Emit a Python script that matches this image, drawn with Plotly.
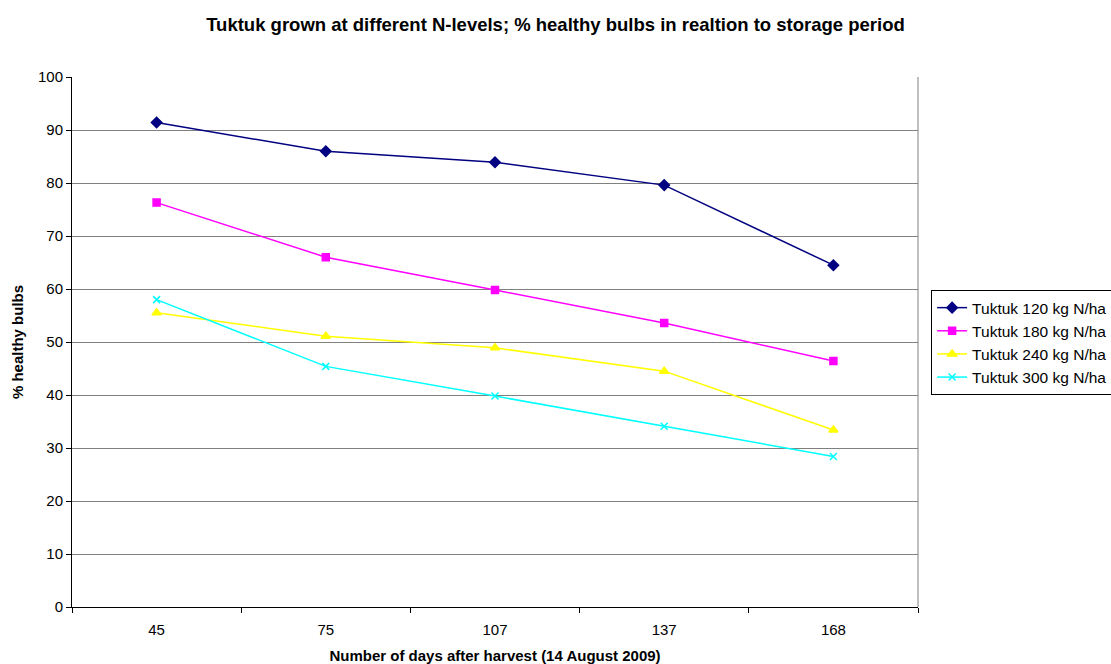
import plotly.graph_objects as go

days = ["45", "75", "107", "137", "168"]
n120 = [91.4, 86.0, 83.9, 79.6, 64.5]
n180 = [76.3, 66.0, 59.8, 53.6, 46.4]
n240 = [55.5, 51.1, 48.9, 44.5, 33.4]
n300 = [58.0, 45.4, 39.8, 34.1, 28.4]

series = [
    ("Tuktuk 120 kg N/ha", n120, "#000080", "diamond", 8),
    ("Tuktuk 180 kg N/ha", n180, "#FF00FF", "square", 7),
    ("Tuktuk 240 kg N/ha", n240, "#FFFF00", "triangle-up", 8),
    ("Tuktuk 300 kg N/ha", n300, "#00FFFF", "x-thin", 7),
]

fig = go.Figure()
for name, vals, color, sym, size in series:
    fig.add_trace(go.Scatter(
        x=days, y=vals, name=name, mode="lines+markers",
        line=dict(color=color, width=1.5),
        marker=dict(symbol=sym, size=size, color=color,
                    line=dict(color=color, width=1.5)),
    ))

fig.update_layout(
    width=1111, height=664,
    margin=dict(l=72, r=193, t=77, b=57, autoexpand=False),
    paper_bgcolor="white", plot_bgcolor="white",
    font=dict(family="Liberation Sans, Arial, sans-serif", size=15, color="black"),
    title=dict(
        text="<b>Tuktuk grown at different N-levels; % healthy bulbs in realtion to storage period</b>",
        x=0.5, xanchor="center", y=0.963, yanchor="middle",
        font=dict(size=18.5),
    ),
    legend=dict(
        x=1.0155, xanchor="left", y=0.598, yanchor="top",
        bordercolor="black", borderwidth=1, bgcolor="white",
        font=dict(size=15.5), tracegroupgap=0, itemwidth=30,
    ),
    xaxis=dict(
        type="category", range=[-0.5, 4.5], automargin=False,
        tickson="boundaries", ticks="outside", ticklen=5, tickcolor="black",
        showline=True, linecolor="black", linewidth=1, ticklabelstandoff=9,
        showgrid=False, zeroline=False, tickfont=dict(size=15),
        title=dict(text="<b>Number of days after harvest (14 August 2009)</b>",
                   font=dict(size=15), standoff=14),
    ),
    yaxis=dict(
        range=[0, 100], dtick=10, ticks="outside", ticklen=5, tickcolor="black",
        showline=True, linecolor="black", linewidth=1, automargin=False,
        showgrid=True, gridcolor="#808080", gridwidth=1, zeroline=False,
        tickfont=dict(size=15),
        title=dict(text="<b>% healthy bulbs</b>", font=dict(size=15), standoff=10),
    ),
    shapes=[dict(type="line", xref="x domain", yref="y domain",
                 x0=1, x1=1, y0=0, y1=1, line=dict(color="#808080", width=1))],
)

fig.write_html("out.html")
